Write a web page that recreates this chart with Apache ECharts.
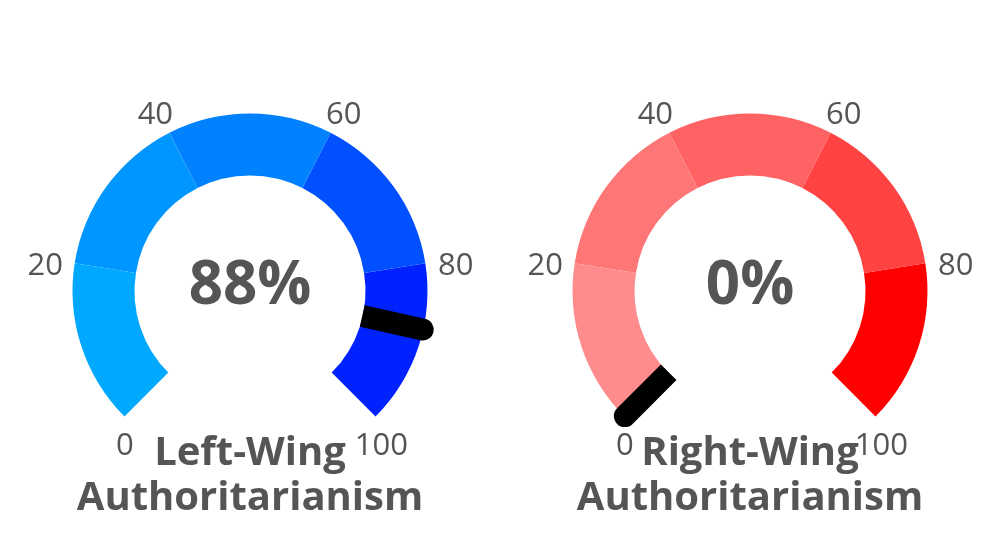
<!DOCTYPE html>
<html>
<head>
<meta charset="utf-8">
<script src="https://cdn.jsdelivr.net/npm/echarts@6/dist/echarts.min.js"></script>
<style>
  html, body { margin: 0; padding: 0; background: #fff; }
  #main { width: 1000px; height: 550px; }
</style>
</head>
<body>
<div id="main"></div>
<script>
var myChart = echarts.init(document.getElementById('main'));

// gauge values (percent)
var names = ['Left-Wing\nAuthoritarianism', 'Right-Wing\nAuthoritarianism'];
var values = [88, 0];
// band colours, one per 20-point step
var leftBands = ['#00A8FF', '#0096FF', '#0082FF', '#0050FF', '#0022FF'];
var rightBands = ['#FF8C8C', '#FF7676', '#FF6262', '#FF4242', '#FF0000'];
var bandStops = [0.2, 0.4, 0.6, 0.8, 1];
var tickValues = [0, 20, 40, 60, 80, 100];

// needle: rounded outer end
var needle = 'path://M0,11 A11,11 0 0 1 22,11 L22,73 L0,73 Z';

// nudge each tick label into place
var labelPad = {
	0: [0, 0, 40, 41],
	20: [28, 0, 0, 22],
	40: [29, 0, 0, 0],
	60: [29, 1, 0, 0],
	80: [28, 21, 0, 0],
	100: [0, 17, 40, 0]
};
var labelRich = {};
tickValues.forEach(function (v) {
	labelRich['t' + v] = {
		padding: labelPad[v],
		color: '#555',
		fontSize: 31,
		fontFamily: 'Open Sans'
	};
});

function makeGauge(idx, bands, cx) {
	return {
		type: 'gauge',
		center: [cx, '52.9%'],
		radius: 177.5,
		startAngle: 225,
		endAngle: -45,
		min: 0,
		max: 100,
		splitNumber: 5,
		axisLine: {
			lineStyle: {
				width: 62,
				color: bandStops.map(function (s, i) { return [s, bands[i]]; })
			}
		},
		axisTick: { show: false },
		splitLine: { show: false, length: 0 },
		axisLabel: {
			distance: -80,
			color: '#555',
			fontSize: 31,
			fontFamily: 'Open Sans',
			formatter: function (v) { return '{t' + v + '|' + v + '}'; },
			rich: labelRich
		},
		pointer: {
			icon: needle,
			width: 22,
			length: 73,
			offsetCenter: [0, -115],
			itemStyle: { color: '#000' }
		},
		anchor: { show: false },
		title: {
			offsetCenter: [0, 185],
			color: '#555',
			fontSize: 40,
			fontWeight: 'bold',
			lineHeight: 45,
			fontFamily: 'Open Sans'
		},
		detail: {
			offsetCenter: [0, -4],
			formatter: '{value}%',
			color: '#555',
			fontSize: 60,
			fontWeight: 'bold',
			fontFamily: 'Open Sans'
		},
		data: [{ value: values[idx], name: names[idx] }]
	};
}

option = {
	backgroundColor: '#fff',
	animation: false,
	series: [
		makeGauge(0, leftBands, '25%'),
		makeGauge(1, rightBands, '75%')
	]
};

myChart.setOption(option);
</script>
</body>
</html>
